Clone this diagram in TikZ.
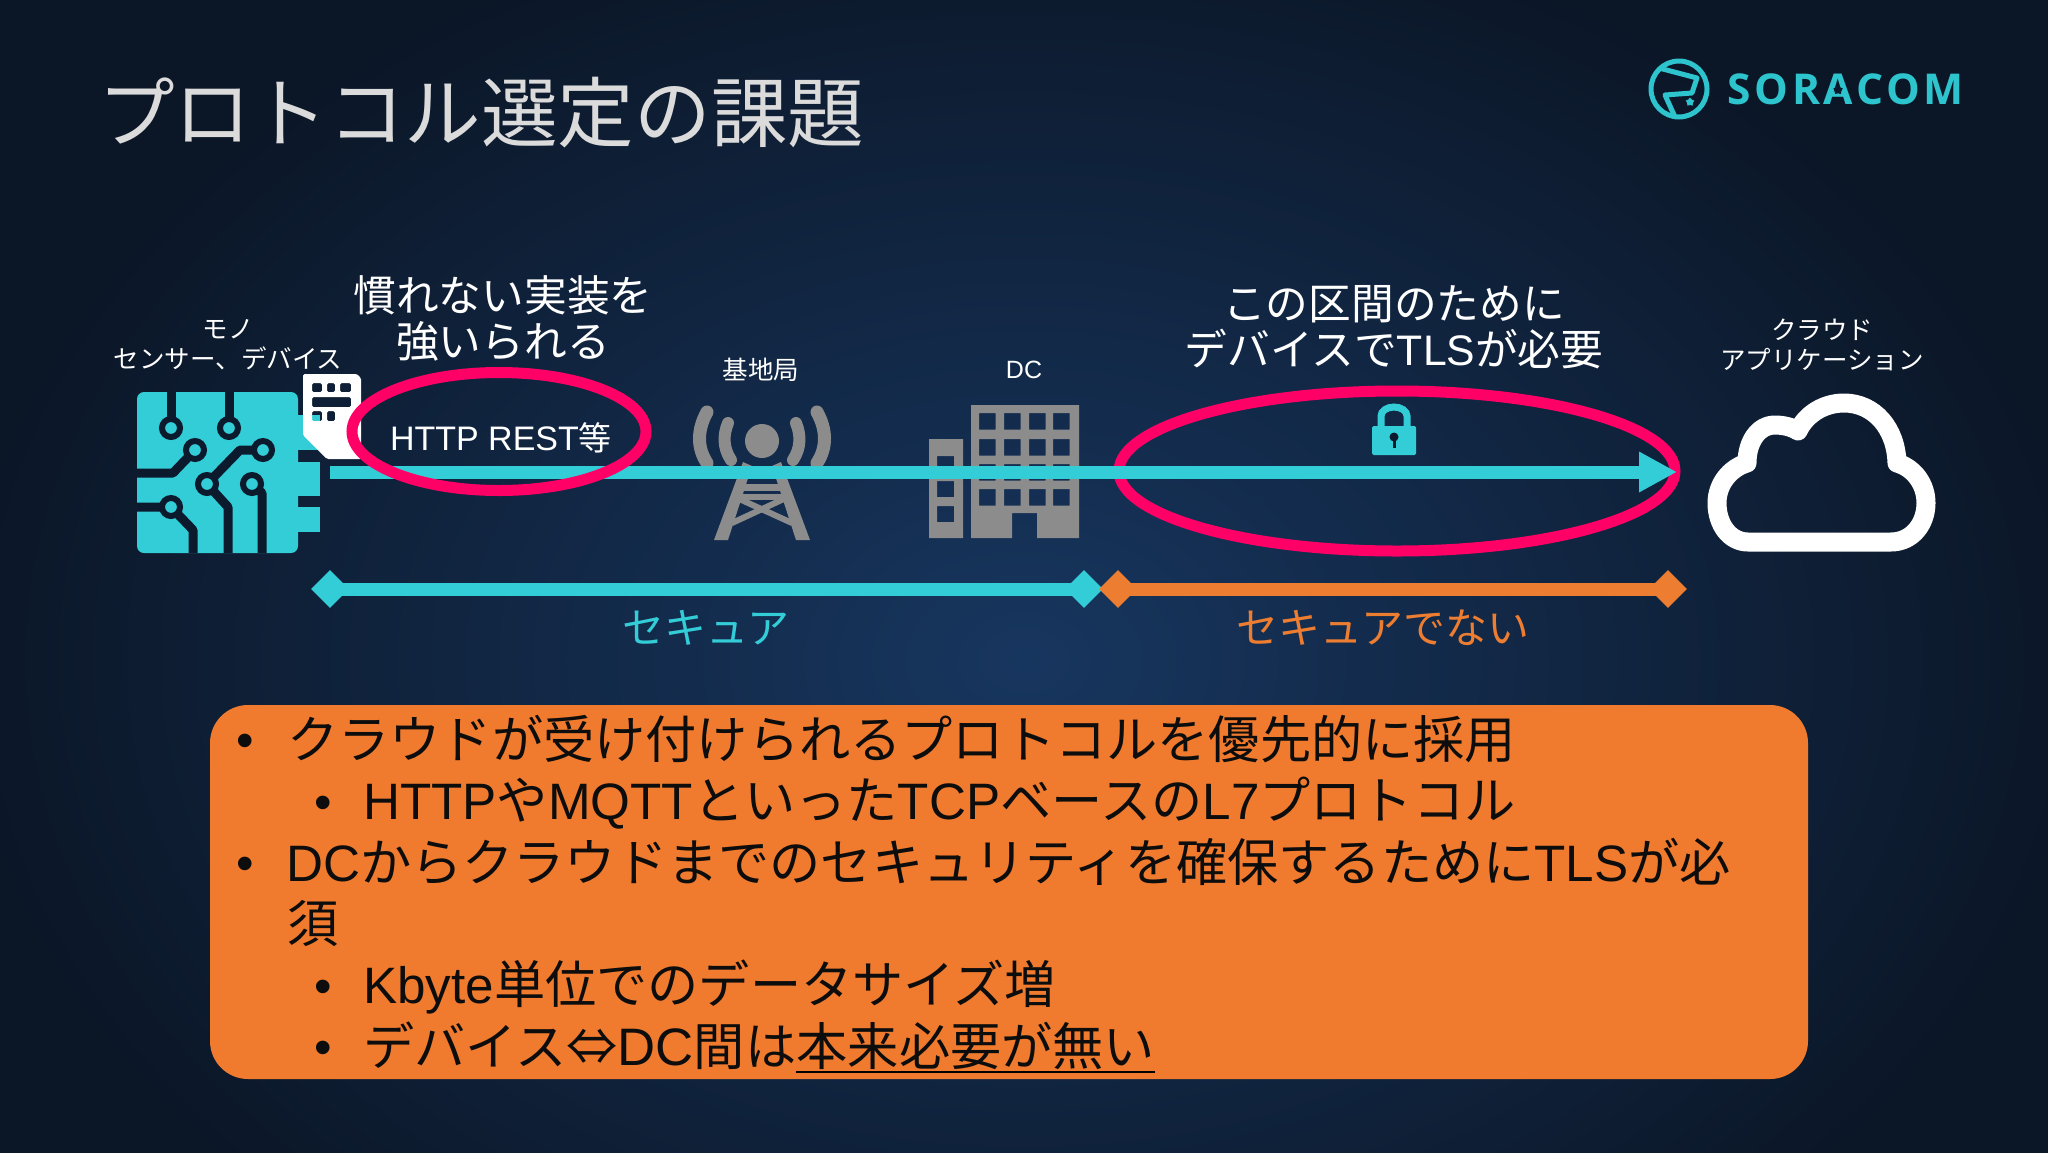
\documentclass[tikz,border=0pt]{standalone}
\usepackage{fontspec}
\usetikzlibrary{arrows.meta,shapes.geometric}
\setmainfont{Noto Sans CJK JP}
\newfontfamily\lat{Liberation Sans}
\newfontfamily\latb[Scale=1.03]{Liberation Sans}
\newfontfamily\logofont[LetterSpace=9]{Open Sans}
\newcommand{\fs}[2]{\fontsize{#1}{#2}\selectfont}
\definecolor{bgmid}{HTML}{17365F}
\definecolor{bgedge}{HTML}{0B1626}
\definecolor{chipdark}{HTML}{0C1A2D}
\definecolor{teal}{HTML}{33CDD8}
\definecolor{logoteal}{HTML}{2EC4CD}
\definecolor{pink}{HTML}{FF0066}
\definecolor{boxorange}{HTML}{F07B2E}
\definecolor{lineorange}{HTML}{ED7D31}
\definecolor{icongray}{HTML}{8C8C8C}
\tikzset{
    smalllabel/.style={text=white, align=center, font=\fs{25.5}{30}},
    callout/.style={text=white, align=center, font=\fs{42.7}{46}},
    seclabel/.style={font=\fs{42}{46}},
    bodyline/.style={anchor=base west, text=black!95, font=\fs{51.2}{60}},
    bulletmark/.style={anchor=base, text=black!95, font=\lat\fs{50}{60}},
    endmark/.style={diamond, fill=#1, minimum width=38pt, minimum height=38pt},
    ring/.style={draw=chipdark, fill=teal, line width=6pt},
    trace/.style={draw=chipdark, line width=9pt, line join=round},
    wave/.style={draw=icongray, line width=13pt, line cap=round},
}
\begin{document}
\begin{tikzpicture}[x=1pt, y=-1pt, inner sep=0pt]
    \useasboundingbox (0,0) rectangle (2048,1152);

    % Background
    \fill[inner color=bgmid, outer color=bgedge] (-60,-120) rectangle (2108,1440);

    % Title and logo
    \node[anchor=base west, text=black!14, font=\fs{76.6}{80}] (title) at (98,141) {プロトコル選定の課題};
    \draw[logoteal, line width=5pt] (1679,89) circle (28);
    \draw[logoteal, line width=5pt, line join=round] (1659,68) -- (1697,78) -- (1692,93) -- (1665,95) -- (1675,117);
    \node[star, star points=5, fill=logoteal, minimum size=9pt] (logostar) at (1690,102) {};
    \node[anchor=base west, text=logoteal, font=\logofont\bfseries\fs{42.5}{46}] (logotext) at (1727,104) {SORACOM};
    \node[star, star points=5, fill=chipdark, minimum size=10pt] (logostarb) at (1838,90) {};

    % Top labels
    \node[smalllabel] (thing) at (228,345) {モノ\\センサー、デバイス};
    \node[smalllabel] (station) at (761,370) {基地局};
    \node[smalllabel, font=\lat\fs{25}{30}] (dc) at (1024,370) {DC};
    \node[smalllabel] (cloudapp) at (1822,345) {クラウド\\アプリケーション};
    \node[callout] (hard) at (503,318) {慣れない実装を\\強いられる};
    \node[callout] (needtls) at (1394,327) {この区間のために\\デバイスで{\lat TLS}が必要};

    % Chip
    \fill[teal, rounded corners=7pt] (137,392) rectangle (298,553);
    \fill[teal] (290,415) rectangle (320,450);
    \fill[teal] (290,462) rectangle (320,496);
    \fill[teal] (290,507) rectangle (320,532);
    \draw[trace] (171,392) -- (171,428);
    \draw[trace] (229,392) -- (229,428);
    \draw[trace] (137,473) -- (173,473) -- (195,450);
    \draw[trace] (263,450) -- (240,450) -- (207,484) -- (228,507) -- (228,553);
    \draw[trace] (252,484) -- (262,493) -- (262,553);
    \draw[trace] (137,507) -- (171,507) -- (193,530) -- (193,553);
    \foreach \cx/\cy in {171/428, 229/428, 195/450, 263/450, 207/484, 252/484, 171/507}
        \draw[ring] (\cx,\cy) circle (9);

    % SIM
    \fill[white, even odd rule, rounded corners=1.5pt] (303,374) -- (357,374) -- (361,378) -- (361,459) -- (327,459) -- (303,435) -- cycle
        (312,383) rectangle (322,392) (327,383) rectangle (335,392) (340,383) rectangle (351,392)
        (312,397) rectangle (351,407)
        (312,411) rectangle (322,421) (327,411) rectangle (335,421);

    % Pink ellipse behind the arrow
    \draw[pink, line width=11pt] (1397,471) ellipse [x radius=278, y radius=80];

    % Tower
    \fill[icongray] (762,441) circle (17);
    \foreach \s in {-1,1} {
        \draw[wave, line width=12pt] ({762+\s*34},423) .. controls ({762+\s*39},435) and ({762+\s*39},448) .. ({762+\s*31},460);
        \draw[wave] ({762+\s*55},412) .. controls ({762+\s*65},430) and ({762+\s*65},448) .. ({762+\s*55},463);
    }
    \fill[icongray] (743,462) -- (752,466) -- (728,540) -- (714,540) -- cycle;
    \fill[icongray] (781,462) -- (772,466) -- (796,540) -- (810,540) -- cycle;
    \draw[icongray, line width=7pt] (744,487) -- (781,487);
    \draw[icongray, line width=6pt] (735,497) -- (790,497);
    \draw[icongray, line width=6pt] (735,497) -- (792,523);
    \draw[icongray, line width=6pt] (788,497) -- (732,523);

    % Building
    \fill[icongray, even odd rule] (929,439) rectangle (963,538)
        \foreach \wy in {456,481,506} { (937,\wy) rectangle (954,{\wy+16}) };
    \fill[icongray, even odd rule] (971,405) -- (1079,405) -- (1079,538) -- (1037,538) -- (1037,513) -- (1012,513) -- (1012,538) -- (971,538) -- cycle
        \foreach \wx in {979,1004,1029,1053} { \foreach \wy in {413,439,464,489} { (\wx,\wy) rectangle ({\wx+16.5},{\wy+16.5}) } };

    % Arrow
    \coordinate (linestart) at (330,472);
    \coordinate (lineend) at (1677,472);
    \draw[teal, line width=13pt, -{Triangle[length=38pt,width=38pt]}] (linestart) -- (lineend);

    % Left ellipse sits on the arrow
    \draw[pink, line width=11pt] (499,431.5) ellipse [x radius=147, y radius=59];
    \node[text=white, font=\fs{33}{36}] (http) at (501,438) {{\latb HTTP REST}等};

    % Lock
    \draw[teal, line width=7pt] (1381,428) -- (1381,416) arc [start angle=180, end angle=360, x radius=13, y radius=9] -- (1407,428);
    \fill[teal, rounded corners=1.5pt] (1372,426) rectangle (1416,455);
    \fill[chipdark] (1394,437) circle (4.5);
    \draw[chipdark, line width=3pt] (1394,437) -- (1394,448);

    % Cloud
    \draw[white, line width=19pt, line join=round] (1748,542) -- (1891,542)
        .. controls (1912,542) and (1926,524) .. (1926,503)
        .. controls (1926,484) and (1914,468) .. (1897,463)
        .. controls (1896,428) and (1874,403) .. (1844,403)
        .. controls (1824,403) and (1806,414) .. (1798,431)
        .. controls (1792,427) and (1783,425) .. (1775,425)
        .. controls (1758,425) and (1747,442) .. (1747,463)
        .. controls (1730,468) and (1717,484) .. (1717,503)
        .. controls (1717,525) and (1730,542) .. (1748,542) -- cycle;

    % Secure and insecure ranges
    \node[endmark=teal] (secleft) at (330,589) {};
    \node[endmark=teal] (secright) at (1084,589) {};
    \draw[teal, line width=13pt] (secleft.center) -- (secright.center);
    \node[endmark=lineorange] (unsecleft) at (1118,589) {};
    \node[endmark=lineorange] (unsecright) at (1668,589) {};
    \draw[lineorange, line width=13pt] (unsecleft.center) -- (unsecright.center);
    \node[seclabel, text=teal] (seclabel) at (706,628) {セキュア};
    \node[seclabel, text=lineorange] (unseclabel) at (1383,628) {セキュアでない};

    % Orange box with the bullet list
    \fill[boxorange, rounded corners=38pt] (210,705) rectangle (1808,1079);
    \node[bulletmark] (b1) at (245,757) {•};
    \node[bodyline] (t1) at (287,758) {クラウドが受け付けられるプロトコルを優先的に採用};
    \node[bulletmark] (b2) at (323,819) {•};
    \node[bodyline] (t2) at (363,819) {{\lat HTTP}や{\lat MQTT}といった{\lat TCP}ベースの{\lat L7}プロトコル};
    \node[bulletmark] (b3) at (245,880) {•};
    \node[bodyline] (t3) at (286,881) {{\lat DC}からクラウドまでのセキュリティを確保するために{\lat TLS}が必};
    \node[bodyline] (t4) at (287,942.5) {須};
    \node[bulletmark] (b4) at (323,1003) {•};
    \node[bodyline] (t5) at (363,1003.5) {{\lat Kbyte}単位でのデータサイズ増};
    \node[bulletmark] (b5) at (323,1064.5) {•};
    \node[bodyline] (t6) at (363,1065) {デバイス⇔{\latb DC}間は};
    \node[bodyline] (t6b) at (t6.base east) {本来必要が無い};
    \draw[black, line width=2.5pt] ([yshift=-7pt]t6b.base west) -- ([yshift=-7pt]t6b.base east);
\end{tikzpicture}
\end{document}
